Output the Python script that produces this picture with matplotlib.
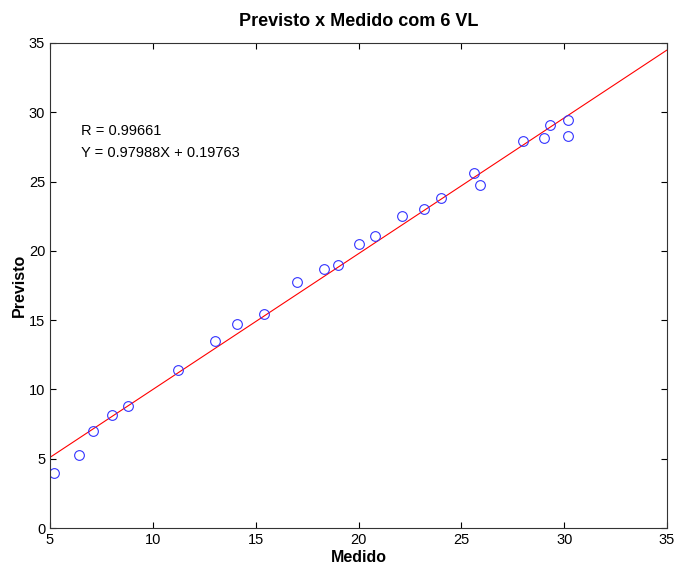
import numpy as np
import matplotlib.pyplot as plt

plt.rcParams['font.family'] = ['Liberation Sans', 'DejaVu Sans']

medido = [5.2, 6.4, 7.1, 8.0, 8.8, 11.2, 13.0, 14.1, 15.4, 17.0, 18.3, 19.0,
          20.0, 20.8, 22.1, 23.2, 24.0, 25.6, 25.9, 28.0, 29.0, 29.3, 30.2, 30.2]
previsto = [4.0, 5.3, 7.0, 8.15, 8.8, 11.4, 13.5, 14.7, 15.45, 17.75, 18.7, 18.95,
            20.5, 21.05, 22.55, 23.0, 23.8, 25.6, 24.75, 27.95, 28.15, 29.05, 29.45, 28.3]

slope = 0.97988
intercept = 0.19763
r_value = 0.99661

fig = plt.figure(figsize=(6.75, 5.65), dpi=100)
ax = fig.add_axes([50/675, 1 - 528/565, 617/675, 485/565])

xl = np.array([5, 35])
ax.plot(xl, slope * xl + intercept, color='red', lw=0.8)
ax.plot(medido, previsto, 'o', mfc='none', mec='#3333ff', ms=7, mew=0.8)

ax.set_xlim(5, 35)
ax.set_ylim(0, 35)
ax.set_xticks(range(5, 36, 5))
ax.set_yticks(range(0, 36, 5))
ax.tick_params(direction='in', top=True, right=True, labelsize=10.5, length=4)
for s in ax.spines.values():
    s.set_color('#333333')

ax.text(6.5, 28.65, 'R = %.5f' % r_value, fontsize=10.5, va='center')
ax.text(6.5, 27.05, 'Y = %.5fX + %.5f' % (slope, intercept), fontsize=10.5, va='center')

ax.set_title('Previsto x Medido com 6 VL', fontsize=13, fontweight='bold', pad=12)
ax.set_xlabel('Medido', fontsize=11.5, fontweight='bold', labelpad=2.5)
ax.set_ylabel('Previsto', fontsize=11.5, fontweight='bold', labelpad=1)

fig.savefig('out.png', dpi=100)
